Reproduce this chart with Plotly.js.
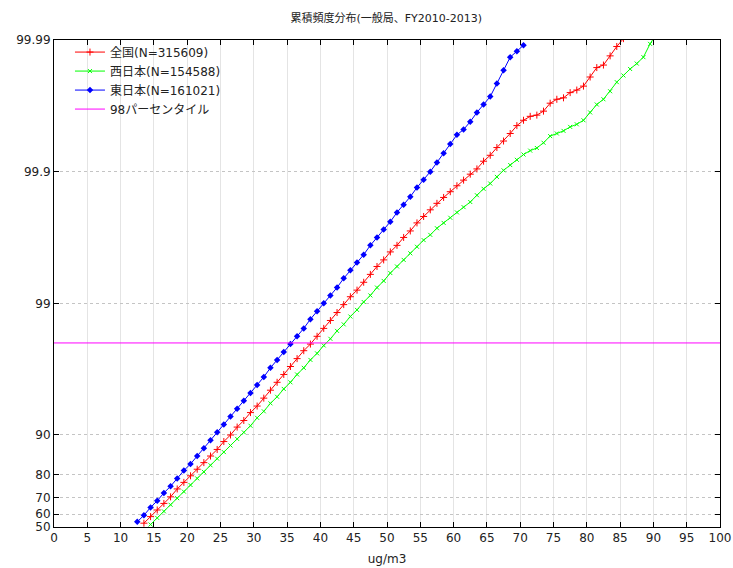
<!DOCTYPE html>
<html>
<head>
<meta charset="utf-8">
<script src="https://cdn.plot.ly/plotly-3.0.1.min.js"></script>
<style>
html,body{margin:0;padding:0;background:#fff;}
#chart{width:733px;height:568px;}
</style>
</head>
<body>
<div id="chart"></div>
<script>
// ---- data (cumulative frequency, %) ----
const seriesNames = ["全国(N=315609)", "西日本(N=154588)", "東日本(N=161021)", "98パーセンタイル"];

const xAll = [13.5,14.5,15.5,16.5,17.5,18.5,19.5,20.5,21.5,22.5,23.5,24.5,25.5,26.5,27.5,28.5,29.5,30.5,31.5,32.5,33.5,34.5,35.5,36.5,37.5,38.5,39.5,40.5,41.5,42.5,43.5,44.5,45.5,46.5,47.5,48.5,49.5,50.5,51.5,52.5,53.5,54.5,55.5,56.5,57.5,58.5,59.5,60.5,61.5,62.5,63.5,64.5,65.5,66.5,67.5,68.5,69.5,70.5,71.5,72.5,73.5,74.5,75.5,76.5,77.5,78.5,79.5,80.5,81.5,82.5,83.5,84.5,85.5];
const pAll = [53.23,58.31,62.85,66.89,70.49,74.30,77.09,79.58,81.80,83.78,85.55,87.12,88.78,90.00,91.29,92.24,93.24,93.97,94.75,95.43,96.02,96.53,96.98,97.37,97.71,97.96,98.22,98.45,98.65,98.825,98.977,99.109,99.206,99.308,99.397,99.475,99.532,99.593,99.637,99.684,99.718,99.755,99.781,99.805,99.826,99.843,99.858,99.872,99.884,99.8955,99.9047,99.9167,99.9249,99.9344,99.9415,99.9487,99.9553,99.9593,99.9620,99.9628,99.9653,99.9698,99.9718,99.9725,99.9749,99.9760,99.9776,99.9809,99.9838,99.9845,99.9868,99.9888,99.99023];

const xWest = [14.5,15.5,16.5,17.5,18.5,19.5,20.5,21.5,22.5,23.5,24.5,25.5,26.5,27.5,28.5,29.5,30.5,31.5,32.5,33.5,34.5,35.5,36.5,37.5,38.5,39.5,40.5,41.5,42.5,43.5,44.5,45.5,46.5,47.5,48.5,49.5,50.5,51.5,52.5,53.5,54.5,55.5,56.5,57.5,58.5,59.5,60.5,61.5,62.5,63.5,64.5,65.5,66.5,67.5,68.5,69.5,70.5,71.5,72.5,73.5,74.5,75.5,76.5,77.5,78.5,79.5,80.5,81.5,82.5,83.5,84.5,85.5,86.5,87.5,88.5,89.5,90.5];
const pWest = [52.14,57.34,61.98,66.12,69.80,73.08,76.01,78.62,80.95,83.02,84.86,86.51,87.98,89.28,90.45,91.49,92.59,93.39,94.25,94.87,95.53,96.02,96.53,96.91,97.31,97.60,97.91,98.14,98.38,98.555,98.741,98.878,99.023,99.129,99.241,99.324,99.411,99.475,99.532,99.583,99.628,99.669,99.698,99.731,99.755,99.776,99.796,99.814,99.830,99.849,99.865,99.877,99.8904,99.9023,99.9109,99.9187,99.9259,99.9308,99.9339,99.9397,99.9463,99.9487,99.9510,99.9543,99.9563,99.9593,99.9645,99.9691,99.9718,99.9755,99.9791,99.9814,99.9834,99.9849,99.9865,99.9893,99.99109];

const xEast = [12.5,13.5,14.5,15.5,16.5,17.5,18.5,19.5,20.5,21.5,22.5,23.5,24.5,25.5,26.5,27.5,28.5,29.5,30.5,31.5,32.5,33.5,34.5,35.5,36.5,37.5,38.5,39.5,40.5,41.5,42.5,43.5,44.5,45.5,46.5,47.5,48.5,49.5,50.5,51.5,52.5,53.5,54.5,55.5,56.5,57.5,58.5,59.5,60.5,61.5,62.5,63.5,64.5,65.5,66.5,67.5,68.5,69.5,70.5];
const pEast = [54.29,59.26,64.52,68.38,72.46,75.45,78.62,81.38,83.40,85.55,87.41,89.04,90.45,91.68,92.76,93.69,94.50,95.21,95.83,96.37,96.91,97.31,97.66,97.96,98.22,98.45,98.68,98.85,99.00,99.129,99.241,99.354,99.438,99.510,99.573,99.637,99.684,99.725,99.760,99.796,99.822,99.845,99.868,99.885,99.900,99.9149,99.9276,99.9383,99.9475,99.9521,99.9583,99.9645,99.9691,99.9731,99.9786,99.9830,99.9865,99.98784,99.98904];

const xRef = [0, 100];
const pRef = [98, 98];

const yTickLabels = ["50","60","70","80","90","99","99.9","99.99"];
const yTickPct = [50, 60, 70, 80, 90, 99, 99.9, 99.99];

// probability axis: plotted as 1/(1-p) on a log axis
const toY = p => 1 / (1 - p / 100);
const conv = arr => arr.map(toY);

const FONT = 'DejaVu Sans, "Noto Sans CJK JP", sans-serif';

const traces = [
  {x: xAll, y: conv(pAll), name: seriesNames[0], mode: 'lines+markers', type: 'scatter',
   line: {color: '#ff0000', width: 1},
   marker: {symbol: 'cross-thin', size: 5, color: '#ff0000', line: {color: '#ff0000', width: 1}}},
  {x: xWest, y: conv(pWest), name: seriesNames[1], mode: 'lines+markers', type: 'scatter',
   line: {color: '#00ff00', width: 1},
   marker: {symbol: 'x-thin', size: 4, color: '#00ff00', line: {color: '#00ff00', width: 1}}},
  {x: xEast, y: conv(pEast), name: seriesNames[2], mode: 'lines+markers', type: 'scatter',
   line: {color: '#0000ff', width: 1},
   marker: {symbol: 'diamond', size: 5, color: '#0000ff'}},
  {x: xRef, y: conv(pRef), name: seriesNames[3], mode: 'lines', type: 'scatter',
   line: {color: '#ff00ff', width: 1}}
];

const layout = {
  width: 733, height: 568,
  margin: {l: 54, r: 13, t: 40, b: 41},
  paper_bgcolor: '#ffffff', plot_bgcolor: '#ffffff',
  font: {family: FONT, size: 12, color: '#222'},
  title: {text: '累積頻度分布(一般局、FY2010-2013)', font: {family: FONT, size: 11, color: '#222'},
          x: 0.527, xanchor: 'center', y: 0.968, yanchor: 'middle'},
  showlegend: true,
  legend: {x: 0.024, y: 1.005, xanchor: 'left', yanchor: 'top', bgcolor: 'rgba(255,255,255,0)',
           font: {family: FONT, size: 12, color: '#222'}, tracegroupgap: 0},
  xaxis: {
    range: [0, 100], dtick: 5, tick0: 0,
    ticks: 'inside', ticklen: 5, tickcolor: '#000', mirror: 'allticks',
    showline: true, linecolor: '#000', linewidth: 1,
    showgrid: true, gridcolor: '#e4e4e4', gridwidth: 1,
    zeroline: false,
    tickfont: {family: FONT, size: 12, color: '#222'},
    title: {text: 'ug/m3', font: {family: FONT, size: 12, color: '#222'}, standoff: 10}
  },
  yaxis: {
    type: 'log', range: [Math.log10(toY(50)), Math.log10(toY(99.99))],
    tickmode: 'array', tickvals: yTickPct.map(toY), ticktext: yTickLabels,
    ticks: 'inside', ticklen: 5, tickcolor: '#000', mirror: 'allticks',
    showline: true, linecolor: '#000', linewidth: 1,
    showgrid: true, gridcolor: '#c4c4c4', griddash: 'dot', gridwidth: 1,
    zeroline: false,
    tickfont: {family: FONT, size: 12, color: '#222'}
  }
};

Plotly.newPlot('chart', traces, layout, {displayModeBar: false, staticPlot: true});
</script>
</body>
</html>
